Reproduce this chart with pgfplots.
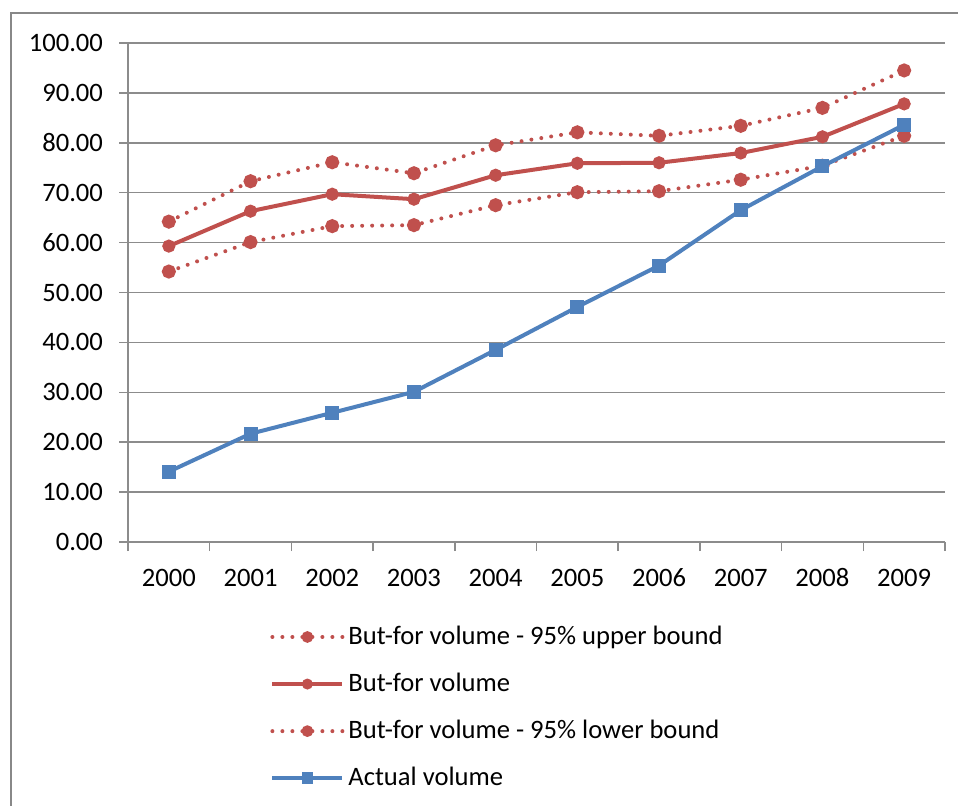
\documentclass[border=0pt]{standalone}
\usepackage{fontspec}
\setmainfont{Carlito}
\usepackage{pgfplots}
\pgfplotsset{compat=1.18}
\definecolor{exred}{RGB}{192,80,77}
\definecolor{exblue}{RGB}{79,129,189}
\definecolor{gridgray}{RGB}{140,140,140}
\definecolor{framegray}{RGB}{136,136,136}
\begin{document}
\begin{tikzpicture}
\path[use as bounding box] (0,0) rectangle (479pt,402.5pt);
\draw[framegray, line width=1.25pt] (5.5pt,-10pt) -- (5.5pt,396pt) -- (490pt,396pt);
\begin{axis}[
  at={(64pt,131.5pt)}, anchor=south west,
  scale only axis, width=408.5pt, height=249.5pt,
  xmin=-0.5, xmax=9.5, ymin=0, ymax=100,
  axis x line*=bottom, axis y line*=left,
  axis line style={gridgray, line width=0.75pt, -},
  xtick={-0.5,0.5,1.5,2.5,3.5,4.5,5.5,6.5,7.5,8.5,9.5},
  xticklabels={2000,2001,2002,2003,2004,2005,2006,2007,2008,2009},
  x tick label as interval,
  ytick={0,10,...,100},
  ymajorgrids, grid style={gridgray, line width=0.75pt},
  tick align=outside, major tick length=4.5pt,
  tick style={gridgray, line width=0.75pt},
  scaled y ticks=false,
  yticklabel style={/pgf/number format/fixed, /pgf/number format/precision=2, /pgf/number format/fixed zerofill, xshift=-4.5pt},
  xticklabel style={text height=9pt, text depth=0pt, yshift=-5pt},
  /pgf/number format/assume math mode=true,
  ticklabel style={font=\fontsize{13.3}{15}\selectfont, black},
  legend style={at={(axis description cs:0.1738,-0.160)}, anchor=north west, draw=none, fill=none,
    font=\fontsize{13.3}{15}\selectfont, row sep=8.8pt, inner sep=0pt,
    /tikz/every even column/.style={column sep=4pt}},
  legend cell align=left,
  legend image code/.code={\draw[mark repeat=2,mark phase=2,#1,/tikz/every mark/.append style={scale=0.75}] plot coordinates {(0pt,0pt) (17.5pt,0pt) (35pt,0pt)};},
]
\addplot[exred, line width=2pt, dash pattern=on 0pt off 5pt, line cap=round, mark=*, mark size=2.5pt, mark options={solid}]
 coordinates {(0,64.2) (1,72.3) (2,76.1) (3,73.9) (4,79.5) (5,82.1) (6,81.4) (7,83.4) (8,87.0) (9,94.5)};
\addlegendentry{But-for volume - 95\% upper bound}
\addplot[exred, line width=2pt, mark=*, mark size=2.25pt, mark options={solid}]
 coordinates {(0,59.3) (1,66.3) (2,69.7) (3,68.7) (4,73.5) (5,75.9) (6,76.0) (7,77.95) (8,81.2) (9,87.8)};
\addlegendentry{But-for volume}
\addplot[exred, line width=2pt, dash pattern=on 0pt off 5pt, line cap=round, mark=*, mark size=2.5pt, mark options={solid}]
 coordinates {(0,54.2) (1,60.1) (2,63.3) (3,63.5) (4,67.5) (5,70.1) (6,70.3) (7,72.6) (8,75.4) (9,81.4)};
\addlegendentry{But-for volume - 95\% lower bound}
\addplot[exblue, line width=2pt, mark=square*, mark size=2.5pt, mark options={solid}]
 coordinates {(0,14.1) (1,21.7) (2,25.9) (3,30.1) (4,38.5) (5,47.1) (6,55.4) (7,66.5) (8,75.3) (9,83.6)};
\addlegendentry{Actual volume}
\end{axis}
\end{tikzpicture}
\end{document}
